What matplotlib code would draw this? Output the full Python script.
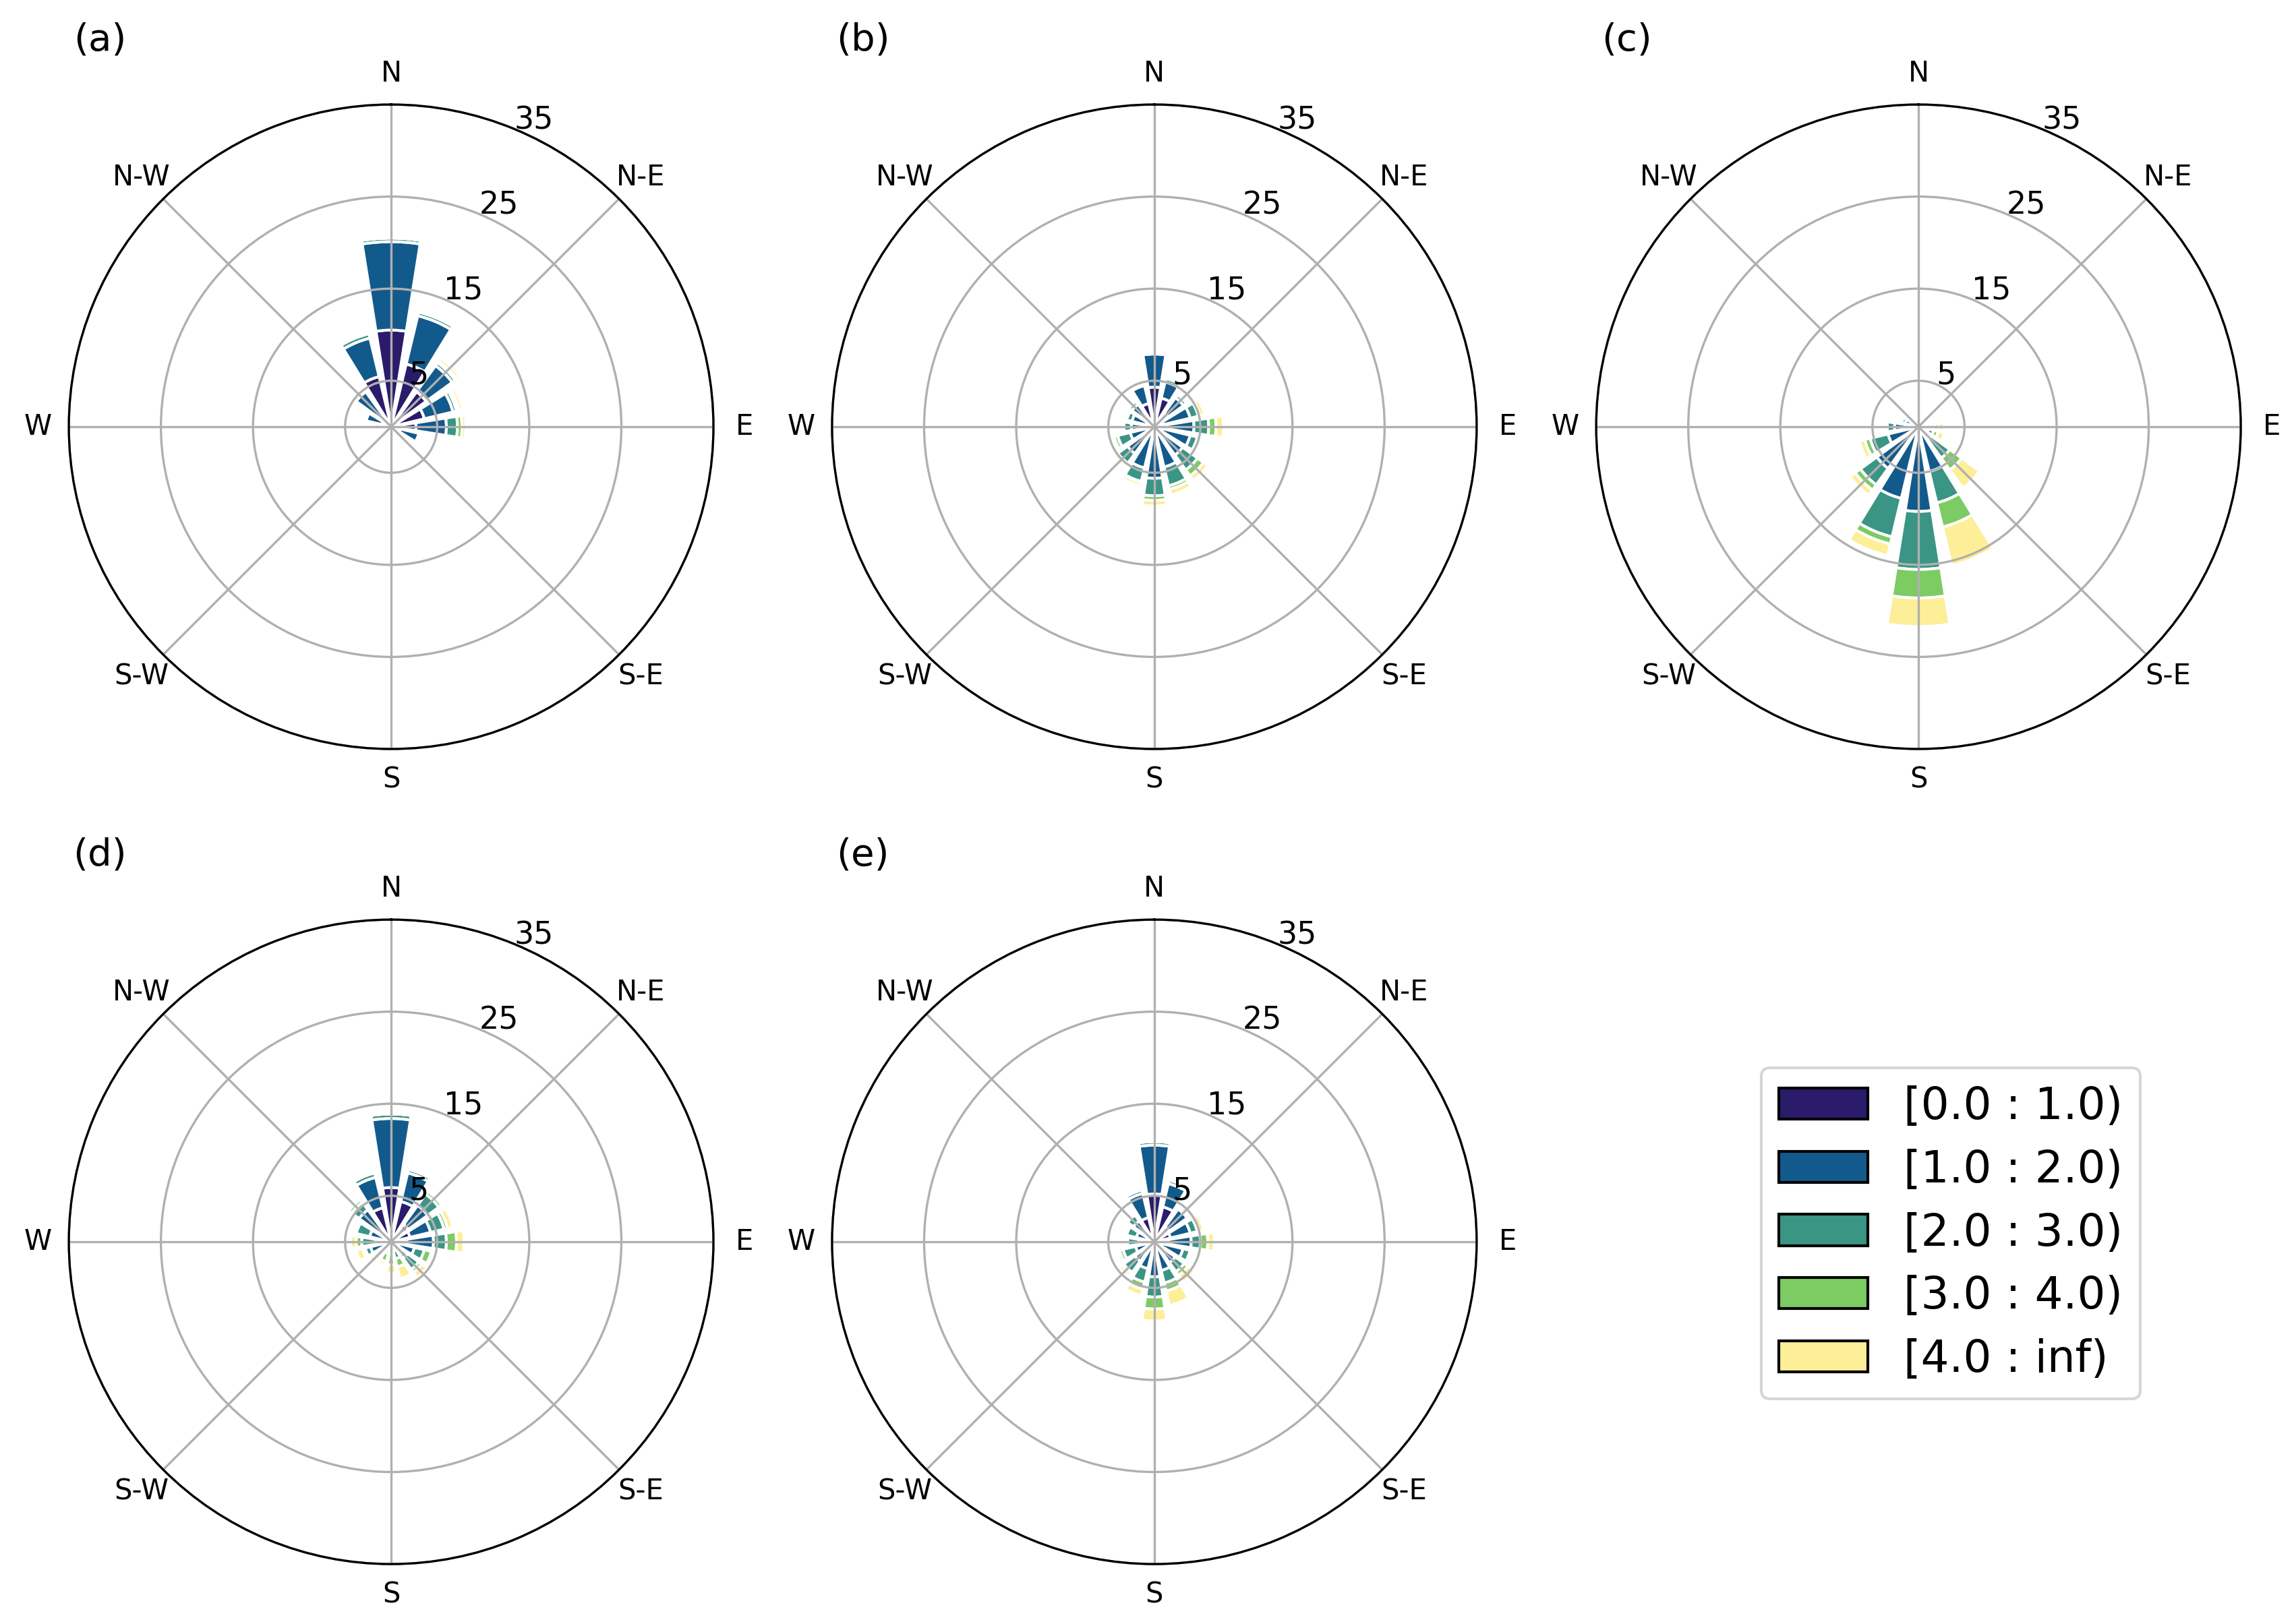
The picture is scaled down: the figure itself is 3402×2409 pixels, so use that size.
import numpy as np
import matplotlib.pyplot as plt
from matplotlib.patches import Patch

# wind direction labels and speed bins
directions = ['N', 'N-E', 'E', 'S-E', 'S', 'S-W', 'W', 'N-W']
bin_labels = ['[0.0 : 1.0)', '[1.0 : 2.0)', '[2.0 : 3.0)', '[3.0 : 4.0)', '[4.0 : inf)']
bin_colors = ['#2b1b6b', '#135a8c', '#3a9585', '#7ccb63', '#fdee98']
radii = [5, 15, 25, 35]

# frequency (%) for 16 sectors, clockwise from N; one row per speed bin
freq_a = [
    [10.5, 7.0, 4.7, 3.7, 2.7, 1.0, 0.3, 0.2, 0.2, 0.2, 0.2, 0.3, 0.6, 1.0, 1.5, 5.6],
    [9.6, 5.4, 3.5, 3.2, 3.3, 2.1, 0.3, 0.2, 0.1, 0.1, 0.2, 0.4, 1.2, 1.8, 3.2, 4.3],
    [0.4, 0.4, 0.4, 0.4, 1.2, 0.3, 0.05, 0.05, 0, 0, 0, 0.1, 0.3, 0.2, 0.2, 0.5],
    [0, 0.05, 0.2, 0.3, 0.5, 0.1, 0, 0, 0, 0, 0, 0, 0.1, 0.3, 0.05, 0],
    [0, 0.05, 0.4, 0.4, 0.4, 0.05, 0, 0, 0, 0, 0, 0, 0, 0, 0, 0],
]
freq_b = [
    [4.3, 3.2, 1.8, 1.0, 0.9, 0.6, 0.5, 0.5, 0.4, 0.5, 0.4, 0.5, 0.5, 0.5, 0.8, 2.6],
    [3.6, 1.8, 2.1, 3.0, 3.4, 3.4, 3.3, 4.0, 5.2, 4.1, 3.2, 2.2, 2.0, 2.0, 2.2, 2.0],
    [0.3, 0.4, 0.4, 0.9, 1.6, 0.8, 2.0, 2.1, 1.9, 1.5, 1.3, 1.4, 0.8, 0.6, 0.4, 0.1],
    [0, 0.2, 0.1, 0.2, 0.8, 0.1, 0.8, 0.4, 0.5, 0.1, 0.1, 0.4, 0.2, 0.1, 0.2, 0],
    [0, 0, 0, 0.5, 0.8, 0.1, 0.6, 0.6, 0.6, 0.4, 0.4, 0.1, 0, 0, 0, 0],
]
freq_c = [
    [0.1, 0.1, 0.1, 0.1, 0.1, 0.1, 0.1, 0.1, 0.2, 0.2, 0.1, 0.1, 0.1, 0.1, 0.1, 0.1],
    [0.1, 0.1, 0.2, 0.3, 1.0, 1.0, 1.6, 4.9, 9.0, 7.8, 5.5, 3.3, 2.5, 1.4, 0.3, 0.2],
    [0, 0, 0, 0.2, 0.7, 0.6, 2.5, 3.5, 6.3, 4.3, 2.2, 2.0, 0.8, 0.4, 0.1, 0],
    [0, 0, 0, 0, 0.4, 0.5, 1.6, 2.7, 3.1, 0.8, 0.7, 0.6, 0.1, 0.1, 0, 0],
    [0, 0, 0, 0, 0.6, 0.7, 2.4, 4.3, 3.1, 1.3, 0.7, 0.6, 0, 0, 0, 0],
]
freq_d = [
    [5.9, 4.5, 2.3, 2.1, 1.7, 0.8, 0.4, 0.2, 0.2, 0.2, 0.2, 0.3, 0.3, 0.5, 1.5, 3.8],
    [7.5, 3.2, 2.6, 2.3, 2.9, 1.8, 1.8, 0.8, 0.5, 0.5, 1.0, 2.0, 1.4, 1.9, 2.8, 3.4],
    [0.5, 0.4, 1.5, 1.5, 1.4, 1.1, 1.5, 0.9, 0.6, 0.6, 0.8, 0.6, 1.5, 1.5, 1.0, 0.5],
    [0, 0, 0.4, 0.4, 1.1, 0.8, 0.4, 0.9, 1.2, 0.9, 0.4, 0.3, 0.6, 0.2, 0.4, 0],
    [0, 0, 0.2, 0.6, 0.8, 0.1, 0.7, 1.3, 0.9, 0.4, 0.5, 0.7, 0.6, 0, 0, 0],
]
freq_e = [
    [5.2, 3.9, 2.0, 1.8, 1.5, 0.6, 0.4, 0.3, 0.3, 0.3, 0.3, 0.3, 0.3, 0.3, 0.8, 2.7],
    [5.3, 2.6, 2.4, 2.2, 2.5, 2.6, 2.4, 2.9, 3.5, 2.7, 2.3, 1.8, 1.4, 1.7, 2.0, 2.7],
    [0.4, 0.4, 0.3, 0.8, 1.0, 0.8, 1.2, 1.4, 2.2, 1.5, 1.5, 1.4, 1.2, 1.1, 0.8, 0.4],
    [0, 0, 0.1, 0.2, 0.8, 0.3, 0.5, 0.9, 1.3, 0.8, 0.2, 0.4, 0.2, 0.1, 0.1, 0],
    [0, 0, 0, 0.5, 0.7, 0.2, 0.9, 1.6, 1.3, 0.7, 0.4, 0.3, 0, 0, 0, 0],
]

panels = [('(a)', freq_a), ('(b)', freq_b), ('(c)', freq_c), ('(d)', freq_d), ('(e)', freq_e)]

fig = plt.figure(figsize=(11.34, 8.03), dpi=300)
w = 956 / 3402
h = 956 / 2409
positions = [(0.0300, 0.5388), (0.3627, 0.5388), (0.6958, 0.5388),
             (0.0300, 0.0369), (0.3627, 0.0369)]

theta = np.deg2rad(np.arange(16) * 22.5)
width = np.deg2rad(22.5) * 0.8

for (label, freq), pos in zip(panels, positions):
    ax = fig.add_axes([pos[0], pos[1], w, h], projection='polar')
    ax.set_theta_zero_location('N')
    ax.set_theta_direction(-1)
    bottom = np.zeros(16)
    for vals, color in zip(freq, bin_colors):
        vals = np.array(vals)
        ax.bar(theta, vals, width=width, bottom=bottom, color=color,
               edgecolor='white', linewidth=1.0)
        bottom += vals
    ax.set_ylim(0, 35)
    ax.set_yticks(radii)
    ax.set_yticklabels([str(r) for r in radii])
    ax.set_rlabel_position(22.5)
    ax.set_xticks(np.deg2rad(np.arange(0, 360, 45)))
    ax.set_xticklabels(directions)
    ax.tick_params(axis='x', labelsize=10, pad=0.5)
    ax.tick_params(axis='y', labelsize=11)
    for t in ax.get_yticklabels():
        t.set_verticalalignment('baseline')
    ax.text(0.048, 1.10, label, transform=ax.transAxes, ha='center', va='center', fontsize=13.5)

handles = [Patch(facecolor=c, edgecolor='black') for c in bin_colors]
fig.legend(handles, bin_labels, loc='upper left', bbox_to_anchor=(0.7678, 0.3425),
           borderaxespad=0, fontsize=15.8, labelspacing=0.45)

fig.savefig('out.png', dpi=300)
